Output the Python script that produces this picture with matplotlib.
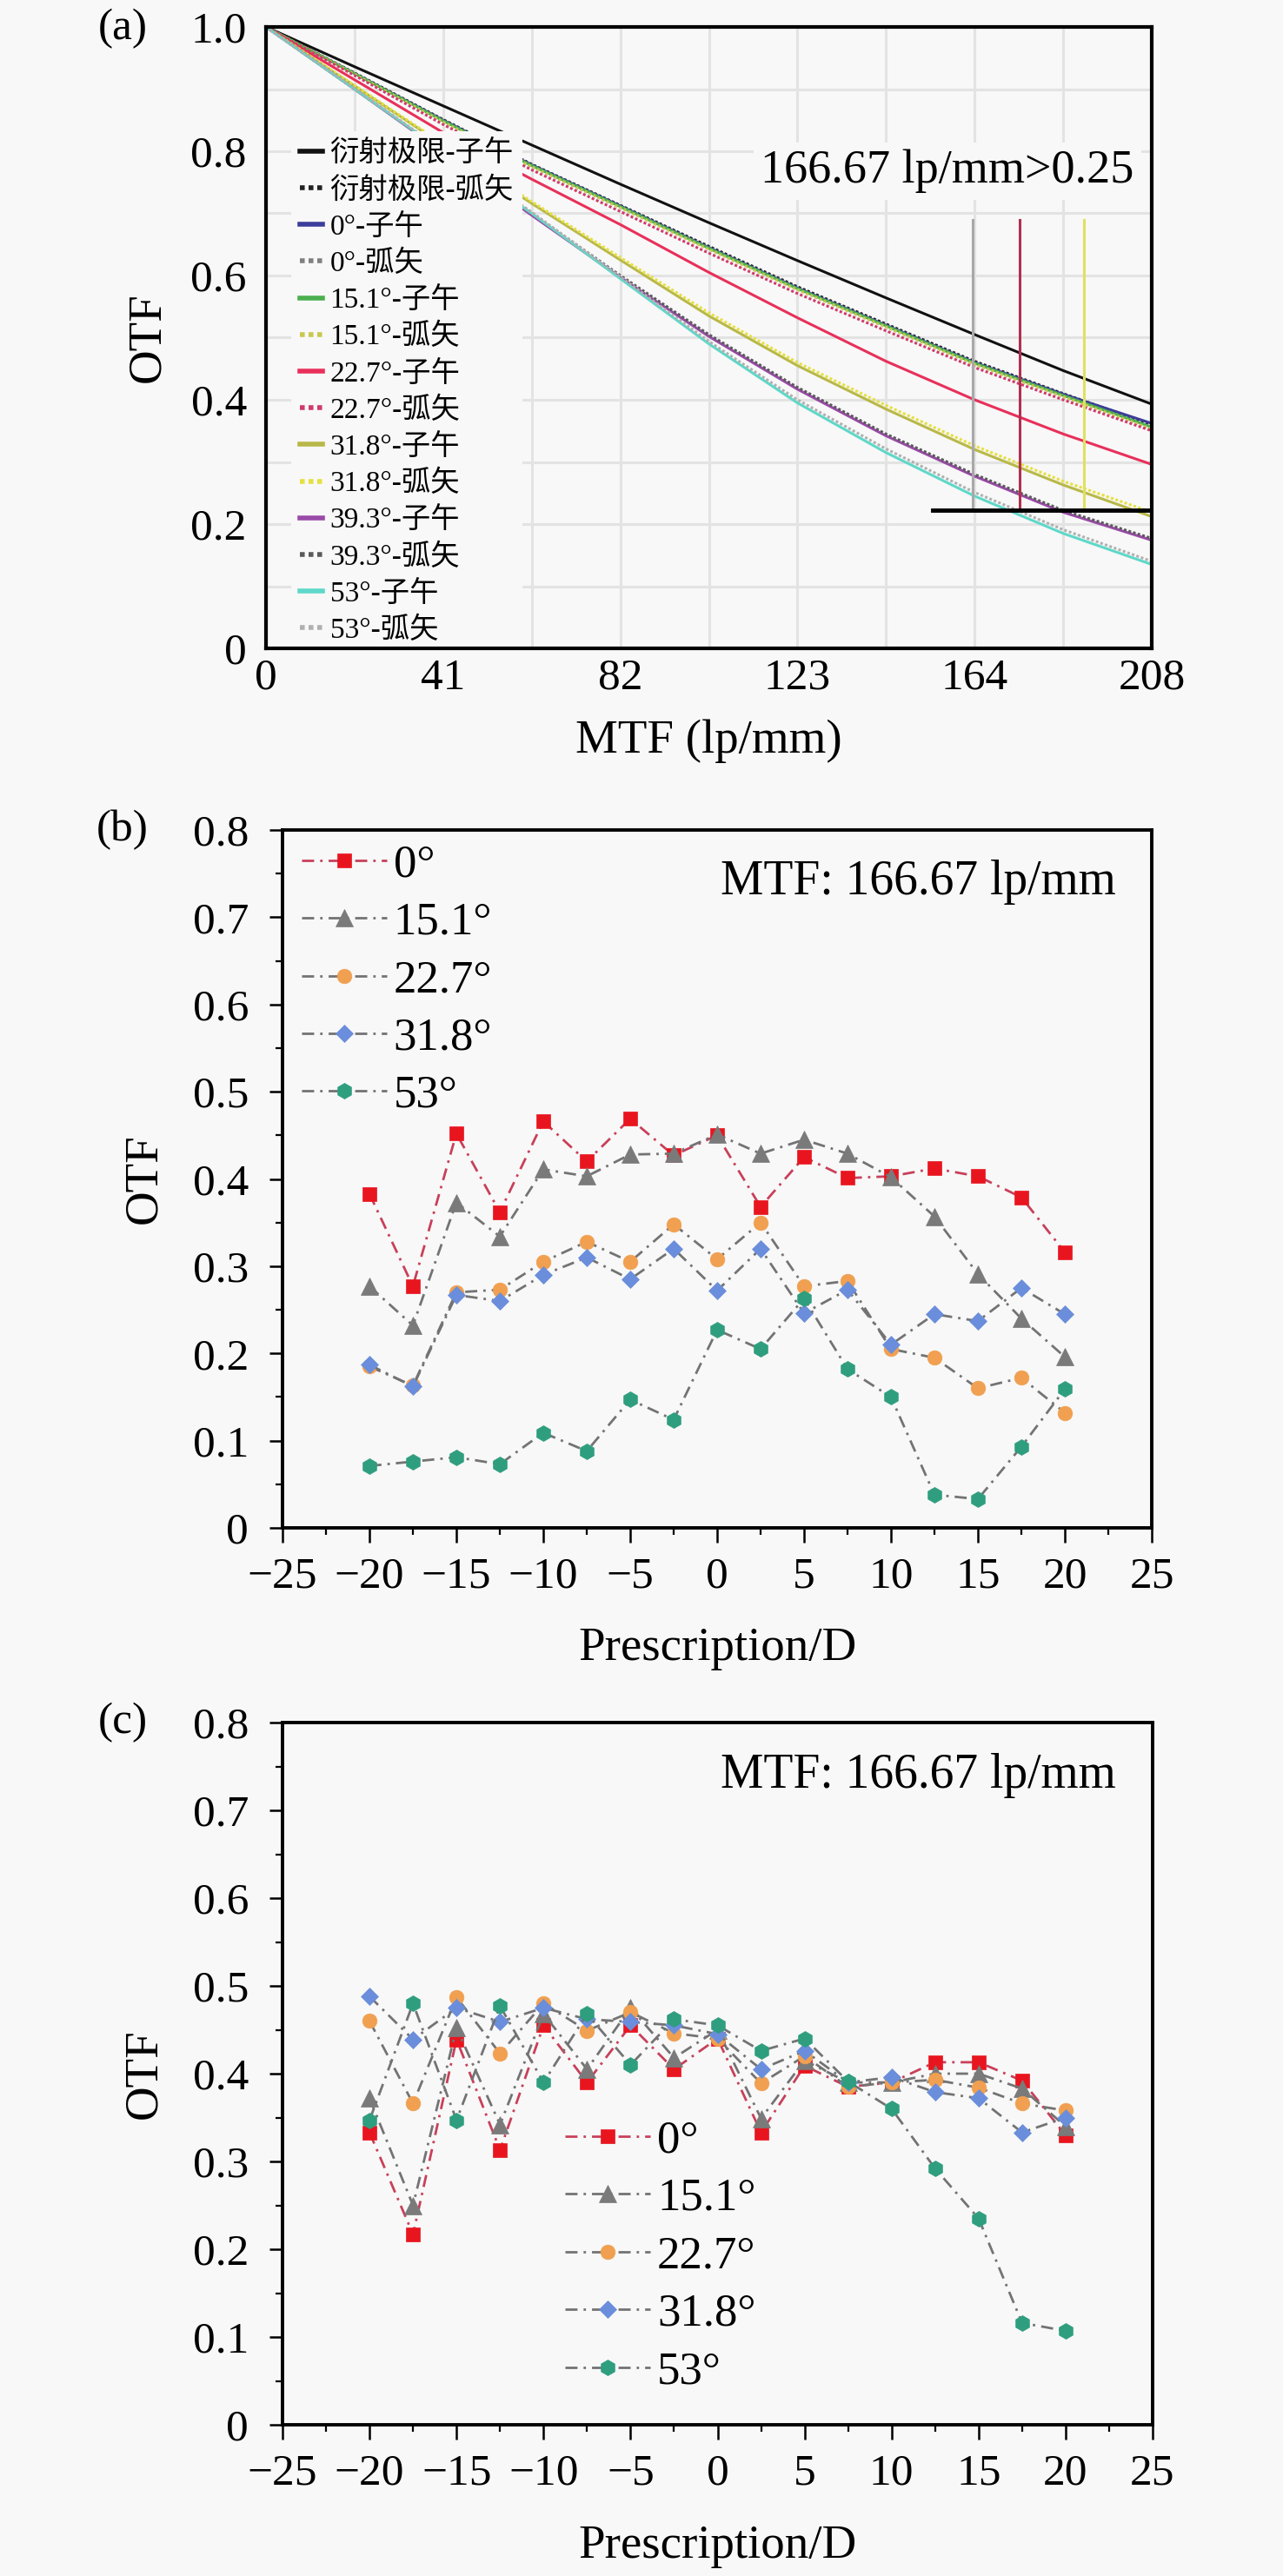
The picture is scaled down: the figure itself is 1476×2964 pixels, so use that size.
import matplotlib
matplotlib.use("Agg")
import matplotlib.pyplot as plt
from matplotlib.ticker import FixedLocator, MultipleLocator, FuncFormatter

plt.rcParams["font.family"] = ["Liberation Serif", "Noto Sans CJK SC"]
plt.rcParams["axes.unicode_minus"] = True

BG = "#f8f8f8"
W, H = 1476, 2964

# ---------------- (a) MTF curves ----------------
freq = [0, 20.8, 41.6, 62.4, 83.2, 104.0, 124.8, 145.6, 166.4, 187.2, 208.0]

mtf_diff_t = [1.0, 0.936, 0.873, 0.810, 0.747, 0.685, 0.624, 0.564, 0.505, 0.447, 0.393]
mtf_diff_s = [1.0, 0.926, 0.851, 0.779, 0.713, 0.647, 0.582, 0.522, 0.462, 0.410, 0.360]
mtf_0_t = [1.0, 0.925, 0.850, 0.778, 0.712, 0.645, 0.580, 0.520, 0.460, 0.409, 0.362]
mtf_0_s = [1.0, 0.924, 0.848, 0.776, 0.710, 0.643, 0.578, 0.518, 0.458, 0.406, 0.355]
mtf_15_t = [1.0, 0.925, 0.849, 0.777, 0.711, 0.644, 0.579, 0.519, 0.459, 0.407, 0.356]
mtf_15_s = [1.0, 0.924, 0.847, 0.775, 0.709, 0.642, 0.577, 0.517, 0.457, 0.405, 0.353]
mtf_22_t = [1.0, 0.915, 0.830, 0.755, 0.682, 0.605, 0.532, 0.462, 0.400, 0.345, 0.296]
mtf_22_s = [1.0, 0.922, 0.843, 0.770, 0.703, 0.636, 0.571, 0.511, 0.452, 0.400, 0.350]
mtf_31_t = [1.0, 0.905, 0.810, 0.716, 0.625, 0.535, 0.455, 0.385, 0.320, 0.263, 0.212]
mtf_31_s = [1.0, 0.906, 0.812, 0.719, 0.629, 0.540, 0.460, 0.391, 0.326, 0.269, 0.219]
mtf_39_t = [1.0, 0.900, 0.798, 0.697, 0.597, 0.502, 0.417, 0.342, 0.277, 0.219, 0.174]
mtf_39_s = [1.0, 0.900, 0.800, 0.700, 0.600, 0.505, 0.420, 0.345, 0.280, 0.222, 0.177]
mtf_53_t = [1.0, 0.900, 0.800, 0.700, 0.595, 0.490, 0.395, 0.315, 0.245, 0.185, 0.135]
mtf_53_s = [1.0, 0.901, 0.801, 0.702, 0.598, 0.494, 0.400, 0.321, 0.251, 0.191, 0.140]

mtf_labels = ["衍射极限-子午", "衍射极限-弧矢", "0°-子午", "0°-弧矢",
              "15.1°-子午", "15.1°-弧矢", "22.7°-子午", "22.7°-弧矢",
              "31.8°-子午", "31.8°-弧矢", "39.3°-子午", "39.3°-弧矢",
              "53°-子午", "53°-弧矢"]
mtf_series = [mtf_diff_t, mtf_diff_s, mtf_0_t, mtf_0_s, mtf_15_t, mtf_15_s,
              mtf_22_t, mtf_22_s, mtf_31_t, mtf_31_s, mtf_39_t, mtf_39_s,
              mtf_53_t, mtf_53_s]
mtf_colors = ["#111111", "#222222", "#3d3d9a", "#808080", "#4caf50", "#c8c850",
              "#e8305a", "#d03a6a", "#b8b84a", "#e6e040", "#9a4aa8", "#5a5a5a",
              "#5fd8c8", "#b0b0b0"]

# marker lines at the 0.25 criterion
cut_x = [166.0, 177.0, 192.0]
cut_colors = ["#a8a8a8", "#b03050", "#e0e060"]
cut_top = 0.69
cut_level = 0.222
cut_left = 156.6

# ---------------- (b), (c) OTF at 166.67 lp/mm ----------------
presc = [-20, -17.5, -15, -12.5, -10, -7.5, -5, -2.5, 0, 2.5, 5, 7.5, 10, 12.5, 15, 17.5, 20]

b_0 = [0.383, 0.277, 0.452, 0.362, 0.466, 0.420, 0.469, 0.427, 0.450, 0.368, 0.425, 0.401, 0.403, 0.412, 0.403, 0.379, 0.316]
b_15 = [0.277, 0.232, 0.373, 0.334, 0.411, 0.403, 0.428, 0.429, 0.451, 0.429, 0.445, 0.429, 0.402, 0.357, 0.291, 0.240, 0.196]
b_22 = [0.185, 0.163, 0.270, 0.273, 0.305, 0.328, 0.305, 0.348, 0.308, 0.350, 0.277, 0.283, 0.205, 0.195, 0.160, 0.172, 0.132]
b_31 = [0.187, 0.162, 0.267, 0.260, 0.290, 0.310, 0.285, 0.320, 0.272, 0.320, 0.246, 0.273, 0.210, 0.245, 0.237, 0.275, 0.245]
b_53 = [0.071, 0.076, 0.081, 0.073, 0.109, 0.088, 0.147, 0.124, 0.227, 0.205, 0.263, 0.182, 0.150, 0.038, 0.033, 0.093, 0.159]

c_0 = [0.333, 0.217, 0.439, 0.313, 0.455, 0.390, 0.455, 0.405, 0.440, 0.333, 0.409, 0.385, 0.390, 0.413, 0.413, 0.392, 0.330]
c_15 = [0.372, 0.250, 0.452, 0.342, 0.468, 0.405, 0.475, 0.418, 0.450, 0.349, 0.415, 0.390, 0.390, 0.400, 0.400, 0.383, 0.340]
c_22 = [0.460, 0.366, 0.487, 0.423, 0.480, 0.449, 0.470, 0.446, 0.440, 0.389, 0.420, 0.385, 0.390, 0.393, 0.384, 0.366, 0.358]
c_31 = [0.488, 0.439, 0.475, 0.459, 0.475, 0.462, 0.459, 0.455, 0.445, 0.405, 0.426, 0.390, 0.396, 0.379, 0.372, 0.333, 0.350]
c_53 = [0.347, 0.480, 0.347, 0.477, 0.390, 0.468, 0.410, 0.462, 0.455, 0.426, 0.440, 0.391, 0.360, 0.292, 0.235, 0.116, 0.107]

angle_labels = ["0°", "15.1°", "22.7°", "31.8°", "53°"]
markers = ["s", "^", "o", "D", "h"]
marker_sizes = [11.5, 14, 12, 10.5, 13]
marker_colors = ["#e8151f", "#7a7a7a", "#f0a050", "#6a8edb", "#2e9e7e"]
line_colors = ["#c8405a", "#737373", "#737373", "#737373", "#737373"]

DASHDOT = (0, (5, 2.5, 1, 2.5))
TICK_FS = 37
LABEL_FS = 39.5


def zero_fmt(v, pos):
    return "0" if abs(v) < 1e-9 else f"{v:.1f}"


def frame(ax, lw=2.8):
    for sp in ax.spines.values():
        sp.set_linewidth(lw)
        sp.set_color("black")
        sp.set_zorder(4)


def draw_prescription_panel(ax, series, leg_anchor):
    for vals, lab, mk, ms, mc, lc in zip(series, angle_labels, markers,
                                         marker_sizes, marker_colors, line_colors):
        ax.plot(presc, vals, linestyle=DASHDOT, color=lc, lw=2.0,
                marker=mk, ms=ms, mfc=mc, mec=mc, mew=0.5, label=lab)

    ax.set_xlim(-25, 25)
    ax.set_ylim(0, 0.8)
    ax.xaxis.set_major_locator(MultipleLocator(5))
    ax.xaxis.set_minor_locator(MultipleLocator(2.5))
    ax.yaxis.set_major_locator(MultipleLocator(0.1))
    ax.yaxis.set_minor_locator(MultipleLocator(0.05))
    ax.yaxis.set_major_formatter(FuncFormatter(zero_fmt))

    ax.tick_params(axis="both", which="both", direction="out", top=False, right=False)
    ax.tick_params(axis="x", which="major", length=12, width=1.8, pad=12, labelsize=TICK_FS)
    ax.tick_params(axis="y", which="major", length=11, width=1.8, pad=17, labelsize=TICK_FS)
    ax.tick_params(axis="both", which="minor", length=6, width=1.6)
    frame(ax)

    ax.set_xlabel("Prescription/D", fontsize=LABEL_FS)
    ax.set_ylabel("OTF", fontsize=LABEL_FS)
    ax.xaxis.label.set_verticalalignment("center")
    ax.yaxis.label.set_verticalalignment("center")
    ax.xaxis.set_label_coords(0.5, -0.173)
    ax.yaxis.set_label_coords((166 - 325) / 1000, 0.5)

    ax.legend(loc="upper left", bbox_to_anchor=leg_anchor, frameon=False,
              fontsize=38, borderpad=0, borderaxespad=0, numpoints=1,
              handlelength=1.85, handletextpad=0.15, labelspacing=0.35)

    ax.text(11.55, 0.74, "MTF: 166.67 lp/mm", fontsize=40, ha="center", va="center",
            bbox=dict(facecolor=BG, edgecolor="none", pad=2))


fig = plt.figure(figsize=(W / 100, H / 100), dpi=100, facecolor=BG)

# ---------------- panel (a) ----------------
ax_a = fig.add_axes([306 / W, 1 - 746 / H, 1019 / W, 715 / H], facecolor=BG)
for vals, lab, col in zip(mtf_series, mtf_labels, mtf_colors):
    ls = "-" if lab.endswith("子午") else (0, (1, 0.8))
    ax_a.plot(freq, vals, color=col, lw=2.2, linestyle=ls, label=lab, zorder=2)

for cx, cc in zip(cut_x, cut_colors):
    ax_a.plot([cx, cx], [cut_level, cut_top], color=cc, lw=2.2, zorder=2.1)
ax_a.plot([cut_left, 208], [cut_level, cut_level], color="black", lw=3.5, zorder=2.2)

ax_a.set_xlim(0, 208)
ax_a.set_ylim(0, 1.0)
ax_a.xaxis.set_major_locator(FixedLocator([0, 41.6, 83.2, 124.8, 166.4, 208]))
ax_a.set_xticklabels(["0", "41", "82", "123", "164", "208"])
ax_a.xaxis.set_minor_locator(MultipleLocator(20.8))
ax_a.yaxis.set_major_locator(MultipleLocator(0.2))
ax_a.yaxis.set_minor_locator(MultipleLocator(0.1))
ax_a.yaxis.set_major_formatter(FuncFormatter(zero_fmt))
ax_a.set_axisbelow(True)
ax_a.grid(which="both", color="#e3e3e3", lw=2.2)
ax_a.tick_params(axis="both", which="both", length=0, labelsize=TICK_FS)
ax_a.tick_params(axis="x", pad=8)
ax_a.tick_params(axis="y", pad=16)
frame(ax_a, lw=3)

ax_a.set_xlabel("MTF (lp/mm)", fontsize=LABEL_FS)
ax_a.set_ylabel("OTF", fontsize=LABEL_FS)
ax_a.xaxis.label.set_verticalalignment("center")
ax_a.yaxis.label.set_verticalalignment("center")
ax_a.xaxis.set_label_coords(0.5, (746 - 853) / 715)
ax_a.yaxis.set_label_coords((170 - 306) / 1019, 0.5)

leg_a = ax_a.legend(loc="upper left", bbox_to_anchor=(0.028, 0.832), fontsize=24,
                    frameon=True, facecolor=BG, edgecolor="none", framealpha=1,
                    fancybox=False, borderpad=0.3, borderaxespad=0,
                    handlelength=0.8, handletextpad=0.25, labelspacing=0.33)
leg_a.set_zorder(2.3)
for ln in leg_a.get_lines():
    ln.set_linewidth(4)

ax_a.text(160.0, 0.768, "166.67 lp/mm>0.25", fontsize=39, ha="center", va="center",
          bbox=dict(facecolor=BG, edgecolor="none", pad=6), zorder=3)

# ---------------- panel (b) ----------------
ax_b = fig.add_axes([325 / W, 1 - 1758 / H, 1000 / W, 803 / H], facecolor=BG)
draw_prescription_panel(ax_b, [b_0, b_15, b_22, b_31, b_53], (0.022, 0.98))

# ---------------- panel (c) ----------------
ax_c = fig.add_axes([325 / W, 1 - 2790 / H, 1001 / W, 808 / H], facecolor=BG)
draw_prescription_panel(ax_c, [c_0, c_15, c_22, c_31, c_53], (0.325, 0.434))

# panel letters
for letter, ypx in [("(a)", 33), ("(b)", 955), ("(c)", 1982)]:
    fig.text(141 / W, 1 - ypx / H, letter, fontsize=37, ha="center", va="center")

fig.savefig("out.png", dpi=100, facecolor=BG)
